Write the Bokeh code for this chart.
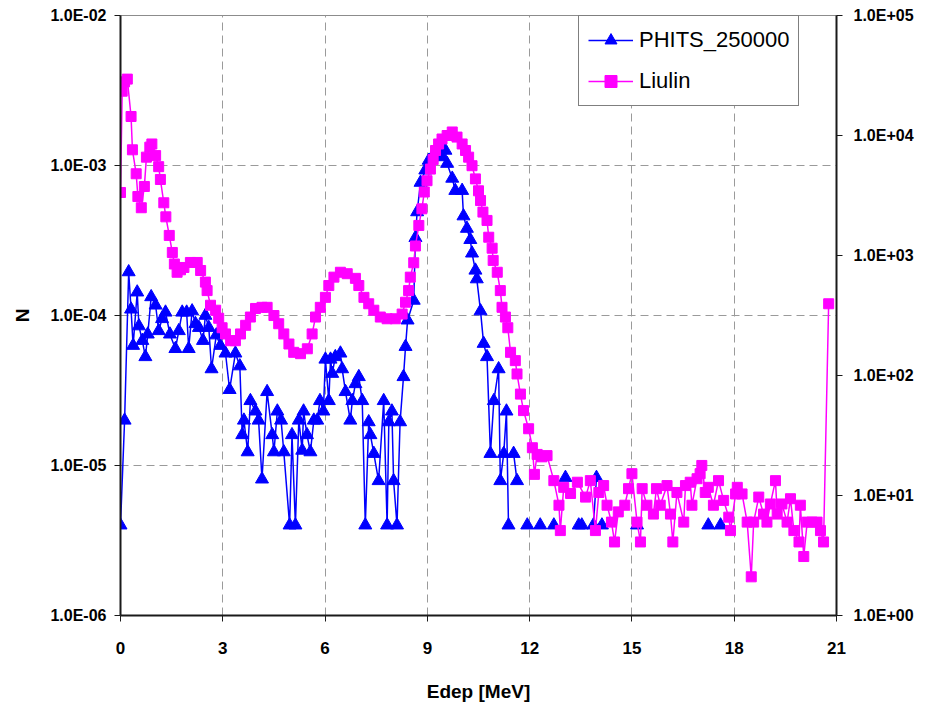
import numpy as np
from bokeh.plotting import figure
from bokeh.models import (ColumnDataSource, Range1d, LogScale, LogAxis, FixedTicker,
                          CustomJSTickFormatter, Legend, LegendItem)
from bokeh.embed import file_html
from bokeh.resources import INLINE

NAN = float("nan")

# PHITS_250000 (left axis, N); NaN = empty bin (line break)
phits_e = [0.00, 0.12, 0.24, 0.31, 0.37, 0.49, 0.54, 0.64, 0.73, 0.80, 0.90, 1.03, 1.12, 1.22, 1.32,
           1.45, 1.61, 1.71, 1.81, 1.94, 2.00, 2.10, 2.20, 2.30, 2.42, 2.49, 2.59, 2.67, 2.81, 2.93,
           3.08, 3.20, 3.37, 3.50, 3.57, 3.62, 3.73, 3.81, 3.96, 4.05, 4.15, 4.30, 4.45, 4.50, 4.60,
           4.71, 4.79, 4.96, 5.03, 5.13, 5.23, 5.33, 5.37, 5.47, 5.57, 5.67, 5.77, 5.85, 5.95, 6.01,
           6.11, 6.16, 6.21, 6.30, 6.45, 6.50, 6.60, 6.74, 6.80, 6.89, 6.99, 7.09, 7.18, 7.28, 7.33,
           7.43, 7.57, 7.72, 7.82, 7.87, 7.96, 8.01, 8.11, 8.20, 8.30, 8.36, 8.42, 8.60, 8.65, 8.70,
           8.80, 8.94, 9.04, 9.14, 9.29, 9.43, 9.53, 9.58, 9.73, 9.82, 10.02, 10.06, 10.16, 10.26,
           10.31, 10.41, 10.45, 10.56, 10.65, 10.75, 10.85, 10.95, 11.09, 11.14, 11.24, 11.32, 11.38,
           11.45, 11.53, 11.63, 11.78, 11.93, 12.10, 12.31, 12.50, 12.71, 12.90, 13.05, 13.25, 13.44,
           13.53, 13.70, 13.87, 13.96, 14.05, 14.12, 14.60, 15.15, 16.50, 17.24, 17.40, 17.60]
phits_n = [4.0e-6, 2.0e-5, 1.95e-4, 1.1e-4, 6.3e-5, 1.43e-4, 8.5e-5, 6.8e-5, 5.3e-5, 7.5e-5, 1.33e-4,
           1.17e-4, 7.9e-5, 9.5e-5, 1.05e-4, 7.5e-5, 6.0e-5, 7.9e-5, 1.05e-4, 1.05e-4, 6.0e-5, 1.07e-4,
           8.8e-5, 8.3e-5, 6.8e-5, 1.0e-4, 8.3e-5, 4.4e-5, 7.4e-5, 6.3e-5, 5.6e-5, 3.2e-5, 5.6e-5,
           4.6e-5, 1.6e-5, 2.0e-5, 1.23e-5, 2.7e-5, 2.3e-5, 2.0e-5, 8.1e-6, 3.1e-5, 1.6e-5, 1.23e-5,
           2.3e-5, 2.0e-5, 1.23e-5, 4.0e-6, 1.6e-5, 4.0e-6, 2.0e-5, 1.26e-5, 2.3e-5, 1.6e-5, 1.23e-5,
           2.0e-5, 2.0e-5, 2.7e-5, 2.3e-5, 5.1e-5, 2.7e-5, 5.1e-5, 4.1e-5, 5.3e-5, 5.6e-5, 4.4e-5,
           3.1e-5, 2.0e-5, 2.7e-5, 3.5e-5, 3.9e-5, 2.7e-5, 4.0e-6, 1.95e-5, 1.6e-5, 1.2e-5, 7.9e-6,
           2.7e-5, 4.0e-6, 1.95e-5, 2.3e-5, 7.9e-6, 4.0e-6, 1.95e-5, 3.9e-5, 6.2e-5, 9.3e-5, 1.26e-4,
           3.3e-4, 4.9e-4, 7.7e-4, 9.3e-4, 1.08e-3, 1.14e-3, 1.23e-3, 1.14e-3, 1.26e-3, 1.03e-3,
           8.2e-4, 6.8e-4, 6.8e-4, 4.6e-4, 3.8e-4, 3.2e-4, 2.6e-4, 2.0e-4, 1.75e-4, 1.07e-4, 6.5e-5,
           5.3e-5, 1.2e-5, 2.7e-5, 4.4e-5, 7.9e-6, 1.2e-5, 2.3e-5, 4.0e-6, NAN, 1.2e-5, 7.9e-6, NAN,
           4.0e-6, NAN, 4.0e-6, NAN, 4.0e-6, NAN, 8.3e-6, NAN, 4.0e-6, 4.0e-6, NAN, 4.0e-6, 8.3e-6,
           NAN, 4.0e-6, NAN, 4.0e-6, NAN, 4.0e-6, NAN, 4.0e-6]

# Liulin (right axis, counts)
liulin_e = [0.00, 0.05, 0.12, 0.20, 0.31, 0.35, 0.46, 0.51, 0.61, 0.70, 0.76, 0.86, 0.92, 1.03, 1.12,
            1.17, 1.27, 1.33, 1.43, 1.52, 1.58, 1.66, 1.76, 1.86, 2.05, 2.25, 2.35, 2.49, 2.54, 2.64,
            2.79, 2.88, 2.98, 3.08, 3.23, 3.37, 3.52, 3.67, 3.81, 3.96, 4.15, 4.30, 4.50, 4.64, 4.79,
            4.94, 5.08, 5.28, 5.48, 5.62, 5.72, 5.86, 6.01, 6.11, 6.26, 6.45, 6.65, 6.89, 6.99, 7.14,
            7.28, 7.43, 7.62, 7.82, 8.06, 8.26, 8.36, 8.45, 8.50, 8.60, 8.65, 8.75, 8.84, 8.91, 8.99,
            9.09, 9.17, 9.24, 9.33, 9.43, 9.58, 9.73, 9.87, 10.02, 10.12, 10.21, 10.31, 10.41, 10.50,
            10.56, 10.63, 10.75, 10.80, 10.90, 10.93, 11.05, 11.14, 11.19, 11.29, 11.36, 11.44, 11.58,
            11.63, 11.73, 11.82, 11.97, 12.08, 12.14, 12.22, 12.36, 12.51, 12.71, 12.86, 12.90, 13.00,
            13.20, 13.40, 13.64, 13.78, 13.93, 14.03, 14.17, 14.27, 14.40, 14.49, 14.60, 14.79, 14.90,
            15.00, 15.15, 15.25, 15.30, 15.44, 15.63, 15.72, 15.83, 16.03, 16.13, 16.20, 16.32, 16.52,
            16.57, 16.71, 16.76, 16.91, 17.00, 17.05, 17.15, 17.24, 17.39, 17.54, 17.69, 17.84, 17.89,
            18.04, 18.09, 18.23, 18.38, 18.50, 18.57, 18.72, 18.86, 18.96, 19.06, 19.21, 19.26, 19.40,
            19.55, 19.65, 19.75, 19.90, 19.94, 20.04, 20.14, 20.28, 20.43, 20.53, 20.62, 20.77]
liulin_n = [3350, 23400, 28000, 29500, 14400, 7600, 4800, 3100, 2500, 3760, 6600, 8000, 8500, 6800, 5500,
            4300, 2750, 2100, 1470, 1060, 850, 725, 760, 795, 875, 875, 750, 600, 510, 385,
            350, 300, 250, 222, 195, 195, 222, 262, 307, 362, 370, 370, 316, 270, 222,
            183, 156, 152, 167, 222, 307, 370, 448, 562, 660, 725, 705, 645, 562, 448,
            396, 350, 307, 297, 297, 325, 408, 510, 660, 870, 1200, 1780, 2450, 3380, 4200,
            5250, 6300, 7500, 8500, 9350, 10000, 10700, 9700, 8500, 7500, 6600, 5600, 4350, 3460,
            2870, 2300, 1960, 1420, 1150, 910, 725, 510, 370, 307, 250, 156, 133,
            103, 70, 51, 36, 25, 15, 22, 21, 21.5, 13.3, 8.3, 5.1, 11.7,
            10.4, 12.9, 9.7, 13.3, 5.1, 10.6, 12.1, 8.3, 6.0, 4.1, 7.3, 8.3, 11.4,
            15.2, 6.0, 4.1, 11.4, 8.3, 7.0, 11.4, 8.3, 12.1, 7.0, 4.1, 10.6, 6.0,
            12.1, 12.9, 8.3, 13.8, 15.2, 17.8, 10.6, 11.7, 8.3, 13.3, 9.1, 6.6, 5.1,
            10.3, 11.7, 10.3, 6.0, 2.1, 6.0, 9.7, 7.0, 6.0, 8.5, 13.3, 7.0, 8.5,
            6.0, 9.4, 5.1, 4.1, 8.3, 3.1, 6.0, 6.0, 6.0, 5.1, 4.1, 396]

x_ticks = [0, 3, 6, 9, 12, 15, 18, 21]
left_ticks = [1e-6, 1e-5, 1e-4, 1e-3, 1e-2]
right_ticks = [1e0, 1e1, 1e2, 1e3, 1e4, 1e5]

SANS = "Liberation Sans"

p = figure(width=920, height=704, x_range=Range1d(0, 21), y_range=Range1d(1e-6, 1e-2),
           y_axis_type="log", output_backend="svg", toolbar_location=None,
           min_border_left=120, min_border_right=84, min_border_top=15, min_border_bottom=89)
p.extra_y_ranges = {"cnt": Range1d(1, 1e5)}
p.extra_y_scales = {"cnt": LogScale()}
p.background_fill_color = "white"
p.border_fill_color = "white"
p.outline_line_color = "#8c8c8c"
p.outline_line_width = 1

fmt_code = """
const s = tick.toExponential(1).toUpperCase();
return s.replace(/E([+-])(\\d)$/, function(m, g1, g2) { return 'E' + g1 + '0' + g2; });
"""

def style_axis(ax):
    ax.axis_line_color = "#1a1a1a"
    ax.axis_line_width = 2
    ax.major_tick_line_color = "#1a1a1a"
    ax.major_tick_line_width = 1
    ax.major_tick_in = 0
    ax.major_tick_out = 6
    ax.minor_tick_line_color = None
    ax.major_label_text_font = SANS
    ax.major_label_text_font_style = "bold"
    ax.major_label_text_font_size = "16px"
    ax.major_label_text_color = "black"
    ax.axis_label_text_font = SANS
    ax.axis_label_text_font_style = "bold"
    ax.axis_label_text_font_size = "19px"
    ax.axis_label_text_color = "black"

# bottom axis
xa = p.xaxis[0]
style_axis(xa)
xa.ticker = FixedTicker(ticks=x_ticks)
xa.axis_label = "Edep [MeV]"
xa.major_label_text_font_size = "17px"
xa.major_label_standoff = 20
xa.axis_label_standoff = 24

# left axis
ya = p.yaxis[0]
style_axis(ya)
ya.ticker = FixedTicker(ticks=left_ticks)
ya.formatter = CustomJSTickFormatter(code=fmt_code)
ya.axis_label = "N"
ya.major_label_standoff = 8
ya.axis_label_standoff = 14

# right axis
ra = LogAxis(y_range_name="cnt")
style_axis(ra)
ra.ticker = FixedTicker(ticks=right_ticks)
ra.formatter = CustomJSTickFormatter(code=fmt_code)
ra.major_label_standoff = 11
p.add_layout(ra, "right")

for g in (p.xgrid[0], p.ygrid[0]):
    g.grid_line_color = "#9a9a9a"
    g.grid_line_dash = "8 5"
    g.grid_line_width = 1
p.xgrid[0].ticker = FixedTicker(ticks=x_ticks)
p.ygrid[0].ticker = FixedTicker(ticks=left_ticks)

src_p = ColumnDataSource(data=dict(x=np.array(phits_e, dtype=float), y=np.array(phits_n, dtype=float)))
src_l = ColumnDataSource(data=dict(x=np.array(liulin_e, dtype=float), y=np.array(liulin_n, dtype=float)))

lp = p.line("x", "y", source=src_p, line_color="#0000ff", line_width=1.5)
sp = p.scatter("x", "y", source=src_p, marker="triangle", size=13, fill_color="#0000ff",
               line_color="#0000ff")
ll = p.line("x", "y", source=src_l, y_range_name="cnt", line_color="#ff00ff", line_width=1.5)
sl = p.scatter("x", "y", source=src_l, y_range_name="cnt", marker="square", size=10,
               fill_color="#ff00ff", line_color="#ff00ff")

legend = Legend(items=[LegendItem(label="PHITS_250000", renderers=[lp, sp]),
                       LegendItem(label="Liulin", renderers=[ll, sl])],
                location=(458, 509))
legend.border_line_color = "black"
legend.border_line_width = 1
legend.background_fill_color = "white"
legend.background_fill_alpha = 1
legend.label_text_font = SANS
legend.label_text_font_size = "22px"
legend.label_text_color = "black"
legend.glyph_width = 45
legend.glyph_height = 30
legend.label_standoff = 6
legend.padding = 9
legend.spacing = 11
legend.margin = 0
p.add_layout(legend)

open("out.html", "w").write(file_html(p, INLINE))
